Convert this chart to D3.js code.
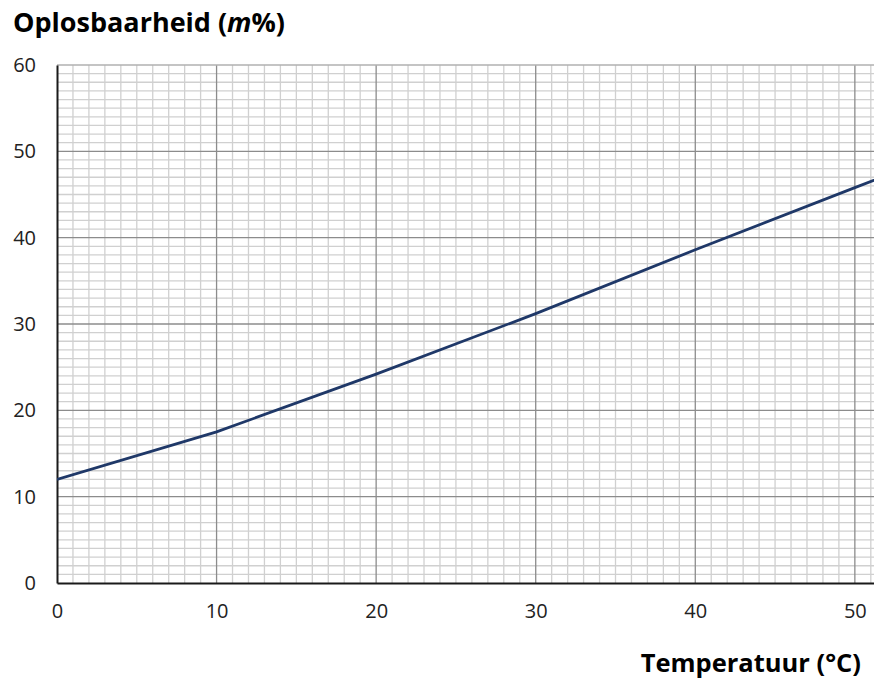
<!DOCTYPE html>
<html>
<head>
<meta charset="utf-8">
<script src="https://cdn.jsdelivr.net/npm/d3@7"></script>
<style>
  body { margin: 0; background: #fff; }
  svg { display: block; font-family: "Open Sans", "Noto Sans", sans-serif; }
</style>
</head>
<body>
<svg width="874" height="679"></svg>
<script>
  // temperature (°C) vs solubility (m%)
  const temps = [0, 10, 20, 30, 40, 50, 60];
  const solubility = [12, 17.5, 24.2, 31.2, 38.6, 45.8, 53];
  const xTicks = [0, 10, 20, 30, 40, 50];
  const yTicks = [0, 10, 20, 30, 40, 50, 60];

  const svg = d3.select("svg");
  const margin = { top: 65, right: 0, bottom: 96, left: 57 };
  const width = +svg.attr("width");
  const height = +svg.attr("height");
  const innerWidth = width - margin.left - margin.right;
  const innerHeight = height - margin.top - margin.bottom;

  const xScale = d3.scaleLinear().domain([0, 51.2]).range([0, innerWidth]);
  const yScale = d3.scaleLinear().domain([0, 60]).range([innerHeight, 0]);

  const g = svg.append("g")
    .attr("transform", `translate(${margin.left},${margin.top})`);

  g.append("clipPath").attr("id", "clip")
    .append("rect").attr("width", innerWidth).attr("height", innerHeight);

  // minor grid
  const minorX = d3.range(1, 52).filter(d => d % 10 !== 0);
  const minorY = d3.range(1, 60).filter(d => d % 10 !== 0);
  g.append("g").selectAll("line").data(minorX).join("line")
    .attr("x1", d => xScale(d)).attr("x2", d => xScale(d))
    .attr("y1", 0).attr("y2", innerHeight)
    .attr("stroke", "#d0d0d0").attr("stroke-width", 1.3);
  g.append("g").selectAll("line").data(minorY).join("line")
    .attr("x1", 0).attr("x2", innerWidth)
    .attr("y1", d => yScale(d)).attr("y2", d => yScale(d))
    .attr("stroke", "#d0d0d0").attr("stroke-width", 1.3);

  // major grid
  g.append("g").selectAll("line").data(xTicks.filter(d => d > 0)).join("line")
    .attr("x1", d => xScale(d)).attr("x2", d => xScale(d))
    .attr("y1", 0).attr("y2", innerHeight)
    .attr("stroke", "#8c8c8c").attr("stroke-width", 1.3);
  g.append("g").selectAll("line").data(yTicks.filter(d => d > 0)).join("line")
    .attr("x1", 0).attr("x2", innerWidth)
    .attr("y1", d => yScale(d)).attr("y2", d => yScale(d))
    .attr("stroke", d => d === 60 ? "#b0b0b0" : "#8c8c8c").attr("stroke-width", 1.3);

  // axes
  const xAxisG = g.append("g")
    .attr("transform", `translate(0,${innerHeight})`)
    .call(d3.axisBottom(xScale).tickValues(xTicks).tickSize(0).tickPadding(21));
  xAxisG.select(".domain").attr("stroke", "#1a1a1a").attr("stroke-width", 2);
  xAxisG.selectAll("text").attr("font-size", 20).attr("fill", "#222")
    .attr("font-family", "Open Sans, sans-serif");

  const yAxisG = g.append("g")
    .call(d3.axisLeft(yScale).tickValues(yTicks).tickSize(0).tickPadding(21));
  yAxisG.select(".domain").attr("stroke", "#1a1a1a").attr("stroke-width", 2);
  yAxisG.selectAll("text").attr("font-size", 20).attr("fill", "#222")
    .attr("font-family", "Open Sans, sans-serif");

  // line
  const line = d3.line()
    .x((d, i) => xScale(temps[i]))
    .y(d => yScale(d));
  g.append("path")
    .datum(solubility)
    .attr("clip-path", "url(#clip)")
    .attr("fill", "none")
    .attr("stroke", "#1f3868")
    .attr("stroke-width", 2.8)
    .attr("d", line);

  // titles
  const title = svg.append("text")
    .attr("x", 13).attr("y", 32)
    .attr("font-size", 27).attr("font-weight", "bold").attr("fill", "#000");
  title.append("tspan").text("Oplosbaarheid (");
  title.append("tspan").attr("font-style", "italic").text("m");
  title.append("tspan").text("%)");

  svg.append("text")
    .attr("x", 861).attr("y", 672)
    .attr("text-anchor", "end")
    .attr("font-size", 25.5).attr("font-weight", "bold").attr("fill", "#000")
    .text("Temperatuur (°C)");
</script>
</body>
</html>
